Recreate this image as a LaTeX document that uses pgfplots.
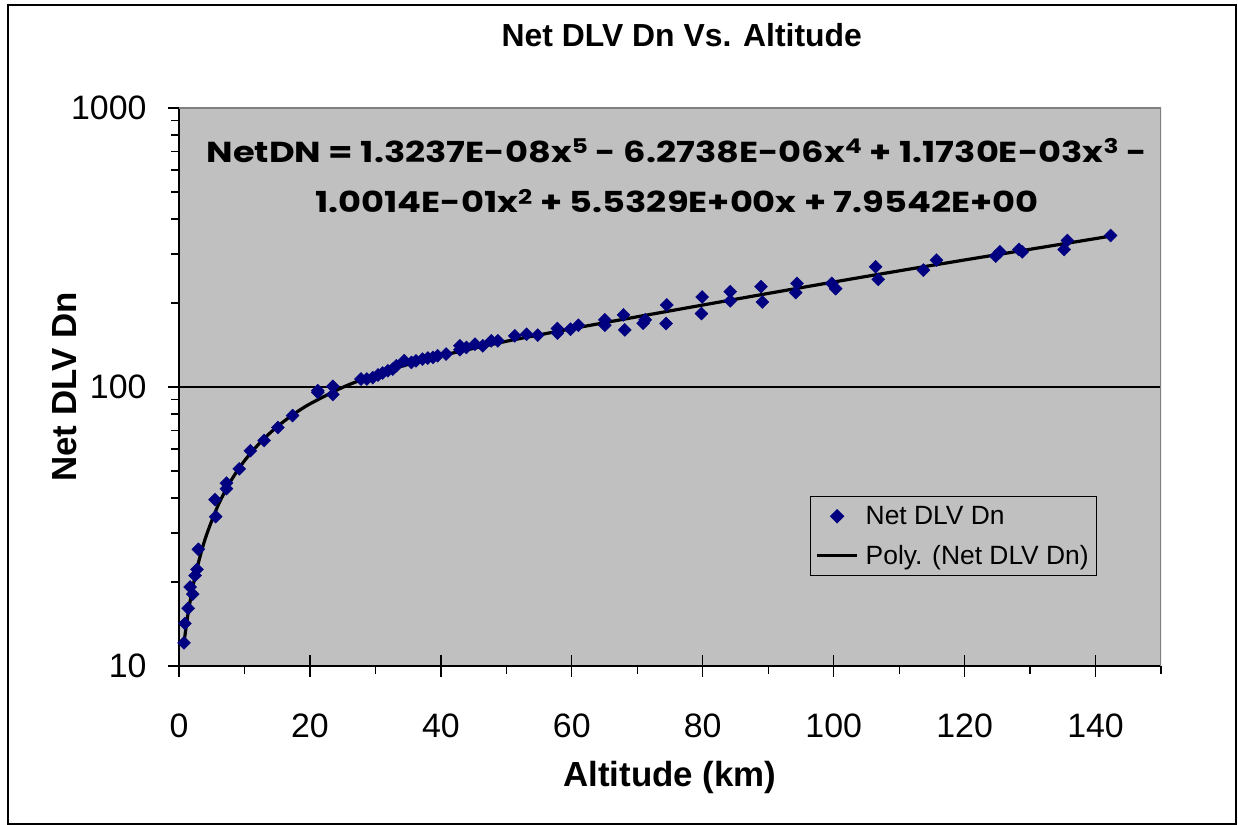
\documentclass[border=0pt]{standalone}
\usepackage{pgfplots}
\pgfplotsset{compat=1.18}
\usepackage{fontspec}
\setmainfont{Liberation Sans}
\newfontfamily\eqfont{Poppins}

\definecolor{plotgray}{HTML}{C0C0C0}
\definecolor{navy}{HTML}{000080}
\definecolor{frame}{HTML}{808080}

\pgfplotsset{
  linelegend/.style={legend image code/.code={\draw[##1] (0bp,0bp) -- (40bp,0bp);}},
  marklegend/.style={legend image code/.code={
      \draw[mark repeat=2,mark phase=2,##1] plot coordinates {(0bp,0bp) (20bp,0bp) (40bp,0bp)};}},
}

\begin{document}
\begin{tikzpicture}[x=1bp,y=1bp]
  \path (0,0) rectangle (1238,825);
  \draw[line width=1.5bp] (8,1) rectangle (1236,820);
  \begin{axis}[
      at={(179bp,159bp)}, anchor=south west,
      scale only axis, width=982bp, height=558bp,
      xmin=0, xmax=150, ymode=log, ymin=10, ymax=1000,
      xtick={0,20,...,140}, minor xtick={10,30,...,150},
      ytick={10,100,1000}, yticklabels={10,100,1000},
      minor ytick={20,30,40,50,60,70,80,90,200,300,400,500,600,700,800,900},
      axis lines*=left,
      axis line style={black, line width=1.5bp},
      axis background/.style={fill=plotgray},
      tick align=center,
      major tick length=22bp, minor tick length=8bp,
      tick style={black, line width=1.3bp},
      minor x tick style={yshift=-4bp},
      minor y tick style={xshift=-4bp},
      /pgf/number format/assume math mode=true,
      tick label style={font=\fontsize{34}{34}\selectfont},
      xticklabel style={yshift=-33bp},
      yticklabel style={xshift=-18bp},
      title={Net DLV Dn Vs. Altitude},
      title style={at={(axis description cs:0.512,1.0986)}, anchor=base,
                   font=\bfseries\fontsize{32}{32}\selectfont},
      xlabel={Altitude (km)},
      xlabel style={at={(axis description cs:0.5,-0.2151)}, anchor=base,
                    font=\bfseries\fontsize{35}{35}\selectfont},
      ylabel={Net DLV Dn},
      ylabel style={at={(axis description cs:-0.1161,0.5)}, anchor=center,
                    font=\bfseries\fontsize{35}{35}\selectfont},
      legend cell align=left,
      legend style={at={(axis description cs:0.6426,0.3047)}, anchor=north west,
                    fill=plotgray, draw=black, line width=1bp,
                    font=\fontsize{26.5}{26.5}\selectfont,
                    inner xsep=5bp, inner ysep=7bp, row sep=13bp,
                    nodes={inner sep=3bp},
                    /tikz/every odd column/.append style={column sep=4bp}},
    ]
    % gridline at 100
    \addplot[black, line width=1.4bp, forget plot] coordinates {(0,100) (150,100)};

    \addplot[only marks, mark=square*, mark size=4.6bp,
             mark options={rotate=45, fill=navy, draw=navy}, marklegend]
      coordinates {
        (0.77,12.1) (0.9,14.2) (1.4,16.1) (1.7,19.2) (2.1,18.1) (2.45,21.1)
        (2.75,22.2) (2.95,26.2) (5.5,39.5) (5.6,34.3) (7.25,45.2) (7.25,43.2)
        (9.2,50.9) (10.9,59.1) (13.0,64.3) (15.1,71.6) (17.35,79.0) (21.2,95.7)
        (21.2,97) (23.5,100.5) (23.5,94) (27.8,106.8) (28.7,106.8) (29.6,108)
        (30.4,110.4) (31.1,112.2) (31.9,114.3) (32.65,115.9) (33.2,119.1)
        (34.4,124.2) (35.5,122.5) (36.2,124) (37.2,125.9) (38.0,127) (38.8,127.7)
        (39.5,129.4) (40.8,131.2) (42.9,140.5) (42.9,136) (43.9,138.6)
        (45.2,142.4) (46.4,140.5) (47.7,146.4) (48.7,146.4) (51.3,152.5)
        (53.1,154.6) (54.8,153.4) (57.8,162) (57.8,156) (59.8,161.1) (61.0,166.5)
        (65.05,174) (65.05,166.5) (67.9,181.3) (68.1,160.2) (70.9,169.3)
        (71.2,174) (74.5,196.8) (74.4,168.8) (79.9,210.2) (79.8,183.3)
        (84.2,219.7) (84.2,203.4) (88.9,228.9) (89.1,201.7) (94.4,235.2)
        (94.2,217.8) (99.7,235) (100.3,225.1) (106.4,269.8) (106.8,243)
        (113.7,262.4) (115.7,285) (124.75,294.4) (125.4,305.2) (128.3,311.1)
        (128.8,305) (135.2,311) (135.7,335) (142.3,349.1)
      };
    \addlegendentry{Net DLV Dn}

    \addplot[black, line width=3.2bp, smooth, linelegend]
      coordinates {
        (0.8,12.317) (1.5,16.032) (2.5,21.178) (4,28.557) (6,37.792) (8,46.384)
        (10,54.381) (12.5,63.610) (15,72.068) (17.5,79.832) (20,86.979)
        (25,99.696) (30,110.726) (35,120.507) (40,129.413) (50,145.80)
        (60,161.777) (70,178.523) (80,196.666) (90,216.437) (100,237.834)
        (110,260.778) (120,285.273) (130,311.566) (140,340.315) (142.3,347.37)
      };
    \addlegendentry{Poly. (Net DLV Dn)}

    \draw[frame, line width=1.2bp] (rel axis cs:0,1) -- (rel axis cs:1,1) -- (rel axis cs:1,0);

    \node[anchor=base, font=\eqfont\bfseries\fontsize{29}{29}\selectfont]
      at (rel axis cs:0.507,0.903)
      {\scalebox{1.22}[1]{NetDN = 1.3237E-08x\textsuperscript{5} - 6.2738E-06x\textsuperscript{4} + 1.1730E-03x\textsuperscript{3} -}};
    \node[anchor=base, font=\eqfont\bfseries\fontsize{29}{29}\selectfont]
      at (rel axis cs:0.507,0.8118)
      {\scalebox{1.22}[1]{1.0014E-01x\textsuperscript{2} + 5.5329E+00x + 7.9542E+00}};
  \end{axis}
\end{tikzpicture}
\end{document}
